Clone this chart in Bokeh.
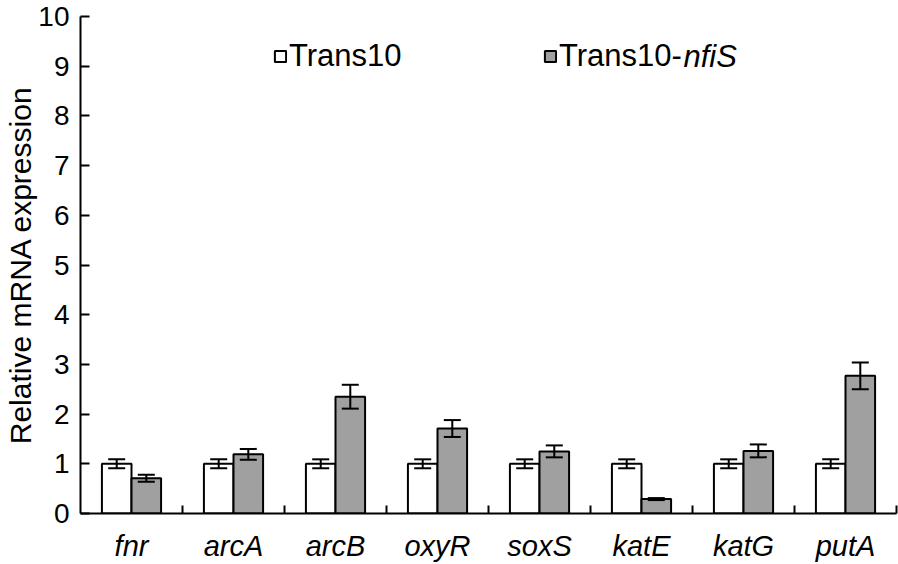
import numpy as np
from bokeh.plotting import figure
from bokeh.models import (ColumnDataSource, Range1d, FixedTicker, Whisker, TeeHead,
                          Legend, LegendItem, Label)
from bokeh.embed import file_html
from bokeh.resources import INLINE

# ---- data ----
categories = ["fnr", "arcA", "arcB", "oxyR", "soxS", "katE", "katG", "putA"]
trans10 = [1.0, 1.0, 1.0, 1.0, 1.0, 1.0, 1.0, 1.0]
trans10_err = [0.09, 0.09, 0.09, 0.09, 0.09, 0.09, 0.09, 0.09]
nfis = [0.71, 1.19, 2.35, 1.71, 1.25, 0.29, 1.26, 2.77]
nfis_err = [0.07, 0.11, 0.24, 0.17, 0.12, 0.02, 0.13, 0.27]
y_ticks = [0, 1, 2, 3, 4, 5, 6, 7, 8, 9, 10]

FONT = "Liberation Sans"
BAR_W = 0.29
OFF = 0.145

n = len(categories)
centers = np.arange(n) + 0.5
src = ColumnDataSource(dict(
    x=centers,
    xa=centers - OFF,
    xb=centers + OFF,
    a=trans10,
    b=nfis,
    a_up=np.array(trans10) + np.array(trans10_err),
    a_lo=np.array(trans10) - np.array(trans10_err),
    b_up=np.array(nfis) + np.array(nfis_err),
    b_lo=np.array(nfis) - np.array(nfis_err),
))

p = figure(width=898, height=564, output_backend="svg", toolbar_location=None,
           x_range=Range1d(0, n), y_range=Range1d(0, 10),
           min_border_left=80, min_border_right=2, min_border_top=16, min_border_bottom=51)
p.outline_line_color = None
p.xgrid.visible = False
p.ygrid.visible = False
p.background_fill_color = "white"

r_a = p.vbar(x="xa", top="a", width=BAR_W, source=src, fill_color="white",
             line_color="black", line_width=2)
r_b = p.vbar(x="xb", top="b", width=BAR_W, source=src, fill_color="#a0a0a0",
             line_color="black", line_width=2)

for base, up, lo in (("xa", "a_up", "a_lo"), ("xb", "b_up", "b_lo")):
    w = Whisker(source=src, base=base, upper=up, lower=lo, line_width=2,
                line_color="black", level="overlay",
                upper_head=TeeHead(size=17, line_width=2, line_color="black"),
                lower_head=TeeHead(size=17, line_width=2, line_color="black"))
    p.add_layout(w)

# x axis
xax = p.xaxis[0]
xax.ticker = FixedTicker(ticks=list(centers), minor_ticks=list(np.arange(1, n + 1)))
xax.major_label_overrides = {float(c): lab for c, lab in zip(centers, categories)}
xax.major_tick_in = 0
xax.major_tick_out = 0
xax.minor_tick_in = 8
xax.minor_tick_out = 0
xax.minor_tick_line_width = 2
xax.minor_tick_line_color = "black"
xax.axis_line_width = 2
xax.axis_line_color = "black"
xax.major_label_text_font = FONT
xax.major_label_text_font_style = "italic"
xax.major_label_text_font_size = "29px"
xax.major_label_text_color = "black"
xax.major_label_standoff = 16

# y axis
yax = p.yaxis[0]
yax.ticker = FixedTicker(ticks=y_ticks, minor_ticks=[])
yax.major_tick_in = 9
yax.major_tick_out = 0
yax.major_tick_line_width = 2
yax.major_tick_line_color = "black"
yax.axis_line_width = 2
yax.axis_line_color = "black"
yax.major_label_text_font = FONT
yax.major_label_text_font_size = "28px"
yax.major_label_text_color = "black"
yax.major_label_standoff = 11
yax.axis_label = "Relative mRNA expression"
yax.axis_label_text_font = FONT
yax.axis_label_text_font_style = "normal"
yax.axis_label_text_font_size = "30px"
yax.axis_label_text_color = "black"
yax.axis_label_standoff = -2

# legend (two separate single-item legends)
leg_common = dict(orientation="horizontal", glyph_width=14, glyph_height=14,
                  label_standoff=2, padding=0, margin=0, spacing=0,
                  border_line_color=None, background_fill_alpha=0,
                  label_text_font=FONT, label_text_font_size="31px",
                  label_text_color="black")
leg1 = Legend(items=[LegendItem(label="Trans10", renderers=[r_a])],
              location=(193, 439), **leg_common)
leg2 = Legend(items=[LegendItem(label="Trans10-", renderers=[r_b])],
              location=(463, 439), **leg_common)
p.add_layout(leg1)
p.add_layout(leg2)
p.add_layout(Label(x=603, y=457, x_units="screen", y_units="screen", text="nfiS",
                   text_font=FONT, text_font_style="italic", text_font_size="31px",
                   text_baseline="middle", text_color="black"))

open("out.html", "w").write(file_html(p, INLINE))
